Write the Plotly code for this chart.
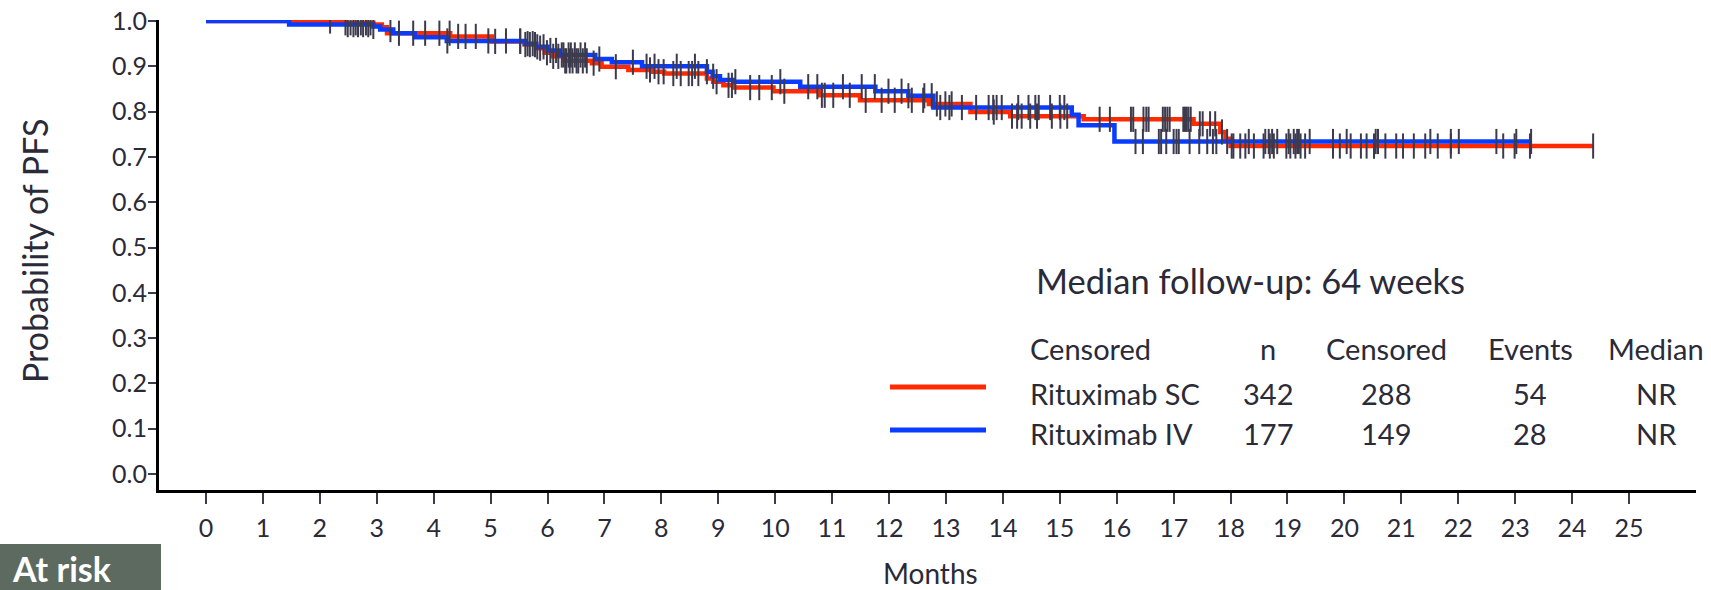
import numpy as np
import plotly.graph_objects as go

# ---------------- data ----------------
sc_time = [0, 2.45, 2.94, 3.09, 3.18, 4.29, 5.02, 5.6, 5.8, 5.95, 6.1, 6.3, 6.78, 6.95, 7.42, 7.83,
           8.05, 8.8, 8.91, 9.09, 9.27, 9.97, 10.79, 11.49, 12.7, 13.43, 14.13, 15.42, 17.35, 17.82,
           17.91, 18.0, 24.37]
sc_surv = [1.0, 0.996, 0.992, 0.986, 0.973, 0.966, 0.955, 0.948, 0.94, 0.93, 0.922, 0.912, 0.907,
           0.899, 0.892, 0.888, 0.884, 0.873, 0.866, 0.858, 0.853, 0.845, 0.836, 0.825, 0.817,
           0.799, 0.790, 0.783, 0.773, 0.755, 0.740, 0.724, 0.724]

iv_time = [0, 1.46, 2.94, 3.06, 3.29, 3.67, 4.23, 5.6, 5.8, 6.0, 6.2, 6.84, 7.13, 7.66, 8.8, 8.9,
           9.03, 9.27, 10.44, 11.76, 12.34, 12.78, 15.21, 15.33, 15.96, 23.28]
iv_surv = [1.0, 0.992, 0.988, 0.981, 0.973, 0.964, 0.956, 0.950, 0.943, 0.935, 0.925, 0.916, 0.909,
           0.900, 0.888, 0.878, 0.870, 0.866, 0.855, 0.845, 0.835, 0.809, 0.793, 0.770, 0.734, 0.734]

sc_censor = [2.18, 2.45, 2.54, 2.63, 2.72, 2.81, 2.89, 3.39, 3.85, 4.10, 4.28, 4.43, 4.56, 4.74, 5.08,
             5.52, 5.61, 5.69, 5.78, 5.87, 5.99, 6.10, 6.19, 6.31, 6.39, 6.51, 6.33, 6.44, 6.54, 6.62,
             6.69, 6.81, 7.20, 7.80, 7.95, 8.04, 8.21, 8.34, 8.48, 8.54, 8.65, 8.97, 9.18, 9.24, 9.56,
             9.72, 9.94, 10.16, 10.82, 10.87, 11.02, 11.31, 11.59, 11.87, 12.10, 12.40, 12.60, 12.84,
             12.99, 13.10, 13.84, 14.16, 14.25, 14.33, 14.48, 14.60, 14.86, 15.01, 15.13, 15.70, 15.88,
             16.25, 16.29, 16.47, 16.52, 16.56, 16.81, 16.85, 16.89, 16.93, 17.17, 17.20, 17.23, 17.26,
             17.30, 17.46, 17.51, 17.64, 17.73, 17.85, 18.02, 18.05, 18.17, 18.26, 18.41, 18.58, 18.69,
             18.76, 18.98, 19.05, 19.14, 19.23, 19.31, 19.80, 19.92, 20.11, 20.29, 20.39, 20.52, 20.72,
             20.91, 21.03, 21.22, 21.42, 21.64, 21.87, 22.79, 22.99, 23.26, 24.37]
iv_censor = [2.49, 2.59, 2.67, 2.76, 2.85, 2.94, 3.24, 3.64, 4.24, 4.96, 5.27, 5.52, 5.65, 5.74, 5.82,
             5.93, 6.05, 6.15, 6.25, 6.28, 6.37, 6.41, 6.48, 6.58, 6.66, 6.91, 7.50, 7.74, 7.88, 8.27,
             8.59, 8.80, 8.91, 9.30, 10.09, 10.58, 10.74, 11.19, 11.52, 11.75, 11.99, 12.22, 12.34,
             12.62, 12.75, 12.90, 13.06, 13.28, 13.53, 13.75, 13.83, 13.89, 13.98, 14.27, 14.45, 14.57,
             14.63, 14.83, 15.00, 15.08, 16.33, 16.46, 16.74, 16.78, 16.87, 17.00, 17.05, 17.09, 17.28,
             17.45, 17.59, 17.69, 17.75, 17.94, 18.32, 18.61, 18.67, 18.73, 18.82, 19.02, 19.11, 19.17,
             19.20, 19.39, 19.80, 20.04, 20.55, 20.59, 21.51, 21.87, 22.01, 22.67, 23.02, 23.28]

arm_names = ["Rituximab SC", "Rituximab IV"]
arm_n = ["342", "177"]
arm_censored = ["288", "149"]
arm_events = ["54", "28"]
arm_median = ["NR", "NR"]
table_headers = ["Censored", "n", "Censored", "Events", "Median"]
x_ticks = list(range(0, 26))
y_ticks = [round(0.1 * i, 1) for i in range(11)]

RED = "#ff2a00"
BLUE = "#0a3cff"
TICK = "#3b3b4d"
TXT = "#2a2a38"
FONT = "Lato"

# ---------------- geometry ----------------
W, H = 1711, 590
L, R, T, B = 159, 15, 20, 100
PW, PH = W - L - R, H - T - B
X_PER_MONTH = 56.92
Y_PER_UNIT = 453.0


def px(x):
    return (x - L) / PW


def py(y):
    return (H - B - y) / PH


def step_at(times, surv, t):
    idx = np.searchsorted(np.asarray(times), np.asarray(t), side="right") - 1
    return np.asarray(surv)[idx]


fig = go.Figure()
fig.add_trace(go.Scatter(x=sc_time, y=sc_surv, mode="lines", line=dict(color=RED, width=4.5, shape="hv"),
                         hoverinfo="skip", showlegend=False))
fig.add_trace(go.Scatter(x=iv_time, y=iv_surv, mode="lines", line=dict(color=BLUE, width=4.5, shape="hv"),
                         hoverinfo="skip", showlegend=False))
for times, surv, cens in [(sc_time, sc_surv, sc_censor), (iv_time, iv_surv, iv_censor)]:
    fig.add_trace(go.Scatter(x=cens, y=step_at(times, surv, cens), mode="markers",
                             marker=dict(symbol="line-ns", size=18, line=dict(width=2, color=TICK)),
                             hoverinfo="skip", showlegend=False))

annotations = []
annotations.append(dict(text="Probability of PFS", xref="paper", yref="paper", x=px(34), y=py(251),
                        xanchor="center", yanchor="middle", textangle=-90, showarrow=False,
                        font=dict(family=FONT, size=34, color=TXT)))
annotations.append(dict(text="Months", xref="paper", yref="paper", x=px(931), y=py(573),
                        xanchor="center", yanchor="middle", showarrow=False,
                        font=dict(family=FONT, size=28, color=TXT)))
annotations.append(dict(text="<b>At risk</b>", xref="paper", yref="paper", x=px(10), y=py(568),
                        xanchor="left", yanchor="middle", showarrow=False,
                        font=dict(family=FONT, size=34, color="white")))
annotations.append(dict(text="Median follow-up: 64 weeks", xref="paper", yref="paper", x=px(1034), y=py(280),
                        xanchor="left", yanchor="middle", showarrow=False,
                        font=dict(family=FONT, size=34.5, color=TXT)))
col_x = [1028, 1268, 1386, 1530, 1656]
col_anchor = ["left", "center", "center", "center", "center"]
row_y = [348, 393, 433]
rows = [table_headers] + [[arm_names[i], arm_n[i], arm_censored[i], arm_events[i], arm_median[i]]
                          for i in range(2)]
for r, row in enumerate(rows):
    for c, txt in enumerate(row):
        annotations.append(dict(text=txt, xref="paper", yref="paper", x=px(col_x[c]), y=py(row_y[r]),
                                xanchor=col_anchor[c], yanchor="middle", showarrow=False,
                                font=dict(family=FONT, size=29, color=TXT)))

shapes = [
    dict(type="rect", xref="paper", yref="paper", x0=px(0), x1=px(161), y0=py(590), y1=py(544),
         fillcolor="#5d6a5f", line=dict(width=0), layer="below"),
    dict(type="line", xref="paper", yref="paper", x0=px(890), x1=px(986), y0=py(387), y1=py(387),
         line=dict(color=RED, width=5)),
    dict(type="line", xref="paper", yref="paper", x0=px(890), x1=px(986), y0=py(430), y1=py(430),
         line=dict(color=BLUE, width=5)),
]

x_lo = -(206 - L) / X_PER_MONTH
x_hi = x_lo + PW / X_PER_MONTH
y_lo = -(490 - 474) / Y_PER_UNIT
y_hi = y_lo + PH / Y_PER_UNIT

fig.update_layout(
    width=W, height=H, margin=dict(l=L, r=R, t=T, b=B, pad=0, autoexpand=False),
    paper_bgcolor="white", plot_bgcolor="white",
    annotations=annotations, shapes=shapes,
    xaxis=dict(range=[x_lo, x_hi], tickvals=x_ticks, ticktext=[str(v) for v in x_ticks],
               showgrid=False, zeroline=False, showline=True, linecolor="black", linewidth=3,
               ticks="outside", ticklen=11, tickwidth=2, tickcolor=TICK, automargin=False,
               tickfont=dict(family=FONT, size=25, color=TXT), ticklabelstandoff=3),
    yaxis=dict(range=[y_lo, y_hi], tickvals=y_ticks, ticktext=[f"{v:.1f}" for v in y_ticks],
               showgrid=False, zeroline=False, showline=True, linecolor="black", linewidth=3,
               ticks="outside", ticklen=8, tickwidth=2, tickcolor=TICK, automargin=False,
               tickfont=dict(family=FONT, size=25, color=TXT), ticklabelstandoff=-4),
)

fig.write_html("out.html", config={"displayModeBar": False},
               post_script="document.body.style.margin='0px';")
